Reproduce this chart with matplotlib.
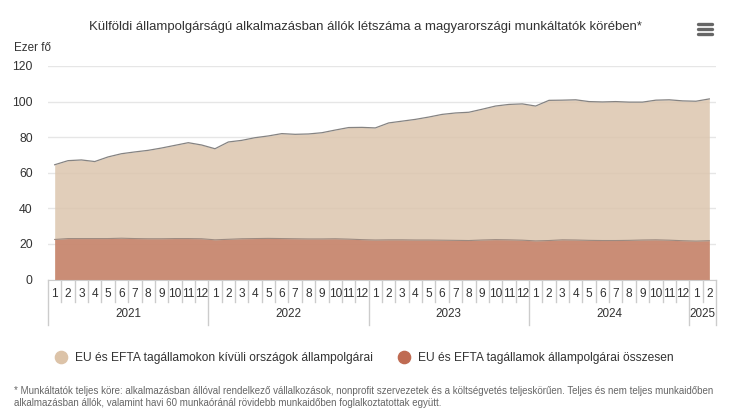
import matplotlib
matplotlib.use("Agg")
import matplotlib.pyplot as plt
import numpy as np

plt.rcParams["font.family"] = ["Liberation Sans", "DejaVu Sans"]

W, H = 730, 420

TITLE = "Külföldi állampolgárságú alkalmazásban állók létszáma a magyarországi munkáltatók körében*"
YEARS = ["2021", "2022", "2023", "2024", "2025"]
MONTHS_PER_YEAR = [12, 12, 12, 12, 2]
YTICKS = [0, 20, 40, 60, 80, 100, 120]

non_eu = [64.5, 66.8, 67.2, 66.3, 68.9, 70.7, 71.7, 72.6, 73.9, 75.4, 76.9, 75.6,
          73.5, 77.3, 78.2, 79.7, 80.7, 82.0, 81.6, 81.8, 82.5, 84.0, 85.4, 85.5,
          85.2, 88.0, 89.0, 90.0, 91.3, 92.8, 93.6, 94.0, 95.7, 97.5, 98.4, 98.7,
          97.5, 100.7, 100.8, 101.0, 100.0, 99.8, 100.0, 99.7, 99.7, 100.8, 101.0, 100.4,
          100.2, 101.5]
eu = [22.5, 23.0, 23.0, 23.0, 23.0, 23.2, 23.0, 22.9, 22.9, 23.0, 23.0, 22.9,
      22.3, 22.6, 22.9, 23.0, 23.1, 23.0, 22.9, 22.8, 22.8, 22.9, 22.7, 22.4,
      22.2, 22.3, 22.3, 22.2, 22.2, 22.1, 22.0, 21.9, 22.2, 22.4, 22.3, 22.1,
      21.7, 21.9, 22.3, 22.2, 22.0, 21.9, 21.9, 22.0, 22.2, 22.3, 22.1, 21.8,
      21.6, 21.8]

LABEL_NON_EU = "EU és EFTA tagállamokon kívüli országok állampolgárai"
LABEL_EU = "EU és EFTA tagállamok állampolgárai összesen"
FOOTNOTE = ("* Munkáltatók teljes köre: alkalmazásban állóval rendelkező vállalkozások, nonprofit "
            "szervezetek és a költségvetés teljeskörűen. Teljes és nem teljes munkaidőben\n"
            "alkalmazásban állók, valamint havi 60 munkaóránál rövidebb munkaidőben "
            "foglalkoztatottak együtt.")

TEXT = "#333333"
AXIS = "#cccccc"
GRID = "#e6e6e6"

fig = plt.figure(figsize=(W / 100, H / 100), dpi=100, facecolor="white")


def fx(px):
    return px / W


def fy(px):
    return 1 - px / H


left, right, top, bottom = 48, 716, 66, 279.5
ax = fig.add_axes([fx(left), fy(bottom), fx(right - left), (bottom - top) / H])

months = np.arange(len(non_eu))
ax.fill_between(months, 0, non_eu, color="#dcc6ae", alpha=0.85, lw=0, zorder=2)
ax.plot(months, non_eu, color="#858382", lw=0.9, zorder=3)
ax.fill_between(months, 0, eu, color="#bf6b52", alpha=0.65, lw=0, zorder=4)
ax.plot(months, eu, color="#9c8a80", lw=0.8, zorder=5)

ax.set_xlim(-0.5, len(non_eu) - 0.5)
ax.set_ylim(0, 120)
ax.set_yticks(YTICKS)
ax.set_xticks([])
ax.tick_params(axis="y", length=0, labelsize=8.8, labelcolor=TEXT, pad=11)
ax.grid(axis="y", color=GRID, lw=1)
ax.set_axisbelow(True)
for name, spine in ax.spines.items():
    spine.set_visible(name == "bottom")
ax.spines["bottom"].set_color(AXIS)
ax.spines["bottom"].set_zorder(6)

# two level category axis, separators hang below the plot
trans = ax.get_xaxis_transform()
plot_h = bottom - top
month_y = -(302 - bottom) / plot_h
year_y = -(325 - bottom) / plot_h
edge = -0.5
i = 0
for year, n in zip(YEARS, MONTHS_PER_YEAR):
    ax.plot([edge, edge], [0, year_y], transform=trans, color=AXIS, lw=1, clip_on=False)
    for m in range(n):
        if m > 0:
            ax.plot([edge + m] * 2, [0, month_y], transform=trans, color=AXIS, lw=1, clip_on=False)
        ax.text(i, -(294 - bottom) / plot_h, str(m + 1), transform=trans, ha="center", va="center",
                fontsize=8.6, color=TEXT)
        i += 1
    ax.text(edge + n / 2, -(314 - bottom) / plot_h, year, transform=trans, ha="center", va="center",
            fontsize=8.4, color=TEXT)
    edge += n
ax.plot([edge, edge], [0, year_y], transform=trans, color=AXIS, lw=1, clip_on=False)

fig.text(fx(365), fy(27), TITLE, ha="center", va="center", fontsize=9.45, color=TEXT)
fig.text(fx(14), fy(48), "Ezer fő", ha="left", va="center", fontsize=8.4, color=TEXT)

# export menu icon
for y in (24, 29, 34):
    fig.add_artist(plt.Line2D([fx(698), fx(712)], [fy(y), fy(y)], color="#666666", lw=2.4,
                              solid_capstyle="round"))

# legend
for cx, color, label, tx, size in ((61, "#dcc3a8", LABEL_NON_EU, 75, 8.65),
                                   (404, "#bf6b52", LABEL_EU, 418, 8.65)):
    fig.add_artist(plt.Line2D([fx(cx)], [fy(357)], marker="o", ms=8.8, mfc=color, mec=color,
                              ls="none"))
    fig.text(fx(tx), fy(357.5), label, ha="left", va="center", fontsize=size, color=TEXT)

fig.text(fx(14), fy(397), FOOTNOTE, ha="left", va="center", fontsize=7.05, color="#666666",
         linespacing=1.35)

fig.savefig("out.png", dpi=100, facecolor="white")
